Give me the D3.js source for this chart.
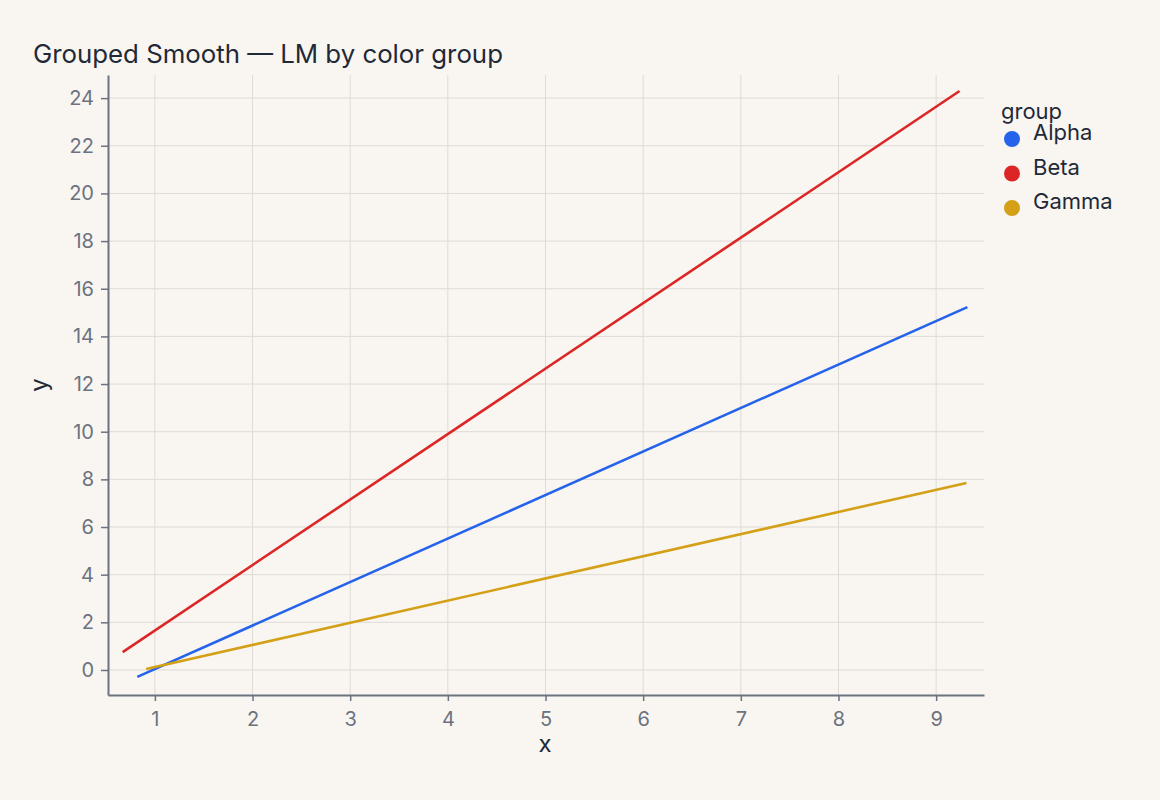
<!DOCTYPE html>
<html><head><meta charset="utf-8">
<script src="https://cdn.jsdelivr.net/npm/d3@7"></script>
<style>
html,body{margin:0;padding:0;background:#f9f6f2;}
svg{display:block;font-family:Inter, "Noto Sans", sans-serif;}
</style></head>
<body>
<svg id="chart" width="1160" height="800"></svg>
<script>
const groups = ["Alpha", "Beta", "Gamma"];
const colors = ["#2563eb", "#dc2626", "#d4a017"];
// fitted line endpoints
const alphaX = [0.82, 9.32];
const alphaY = [-0.29, 15.23];
const betaX = [0.67, 9.24];
const betaY = [0.75, 24.3];
const gammaX = [0.91, 9.31];
const gammaY = [0.04, 7.85];
const xTicks = [1, 2, 3, 4, 5, 6, 7, 8, 9];
const yTicks = [0, 2, 4, 6, 8, 10, 12, 14, 16, 18, 20, 22, 24];

const seriesX = [alphaX, betaX, gammaX];
const seriesY = [alphaY, betaY, gammaY];

const svg = d3.select("#chart");
const m = {left: 108, right: 984, top: 75, bottom: 695};
const x = d3.scaleLinear().domain([0.52, 9.49]).range([m.left, m.right]);
const y = d3.scaleLinear().domain([-1.05, 24.97]).range([m.bottom, m.top]);

const grid = svg.append("g");
grid.selectAll("line.v").data(xTicks).join("line")
  .attr("x1", d => x(d)).attr("x2", d => x(d))
  .attr("y1", m.top).attr("y2", m.bottom)
  .attr("stroke", "#dedad6").attr("stroke-width", 1);
grid.selectAll("line.h").data(yTicks).join("line")
  .attr("x1", m.left).attr("x2", m.right)
  .attr("y1", d => y(d)).attr("y2", d => y(d))
  .attr("stroke", "#dedad6").attr("stroke-width", 1);

const axisColor = "#6b7280";
const xAxis = svg.append("g").attr("transform", `translate(0,${m.bottom})`)
  .call(d3.axisBottom(x).tickValues(xTicks).tickSize(6).tickPadding(11).tickSizeOuter(0));
const yAxis = svg.append("g").attr("transform", `translate(${m.left},0)`)
  .call(d3.axisLeft(y).tickValues(yTicks).tickSize(7).tickPadding(7).tickSizeOuter(0));
[xAxis, yAxis].forEach(a => {
  a.select(".domain").attr("stroke", axisColor).attr("stroke-width", 2);
  a.selectAll(".tick line").attr("stroke", axisColor).attr("stroke-width", 1.5);
  a.selectAll(".tick text").attr("fill", axisColor).attr("font-size", 20)
    .attr("font-family", "Inter, sans-serif");
});

const line = d3.line().x(d => x(d[0])).y(d => y(d[1]));
groups.forEach((g, i) => {
  const pts = seriesX[i].map((v, j) => [v, seriesY[i][j]]);
  svg.append("path").datum(pts).attr("d", line)
    .attr("fill", "none").attr("stroke", colors[i]).attr("stroke-width", 2.6);
});

svg.append("text").attr("x", 33).attr("y", 63)
  .attr("font-size", 25.8).attr("fill", "#1f2937")
  .text("Grouped Smooth — LM by color group");

svg.append("text").attr("x", 545).attr("y", 752)
  .attr("text-anchor", "middle").attr("font-size", 24).attr("fill", "#1f2937").text("x");
svg.append("text").attr("transform", `translate(47,${(m.top + m.bottom) / 2}) rotate(-90)`)
  .attr("text-anchor", "middle").attr("font-size", 24).attr("fill", "#1f2937").text("y");

const leg = svg.append("g");
leg.append("text").attr("x", 1001).attr("y", 119).attr("font-size", 22)
  .attr("fill", "#1f2937").text("group");
const li = leg.selectAll("g.item").data(groups).join("g")
  .attr("transform", (d, i) => `translate(0,${139 + i * 34.5})`);
li.append("circle").attr("cx", 1012).attr("cy", 0).attr("r", 8).attr("fill", (d, i) => colors[i]);
li.append("text").attr("x", 1033).attr("y", 1)
  .attr("font-size", 22).attr("fill", "#1f2937").text(d => d);
</script>
</body></html>
